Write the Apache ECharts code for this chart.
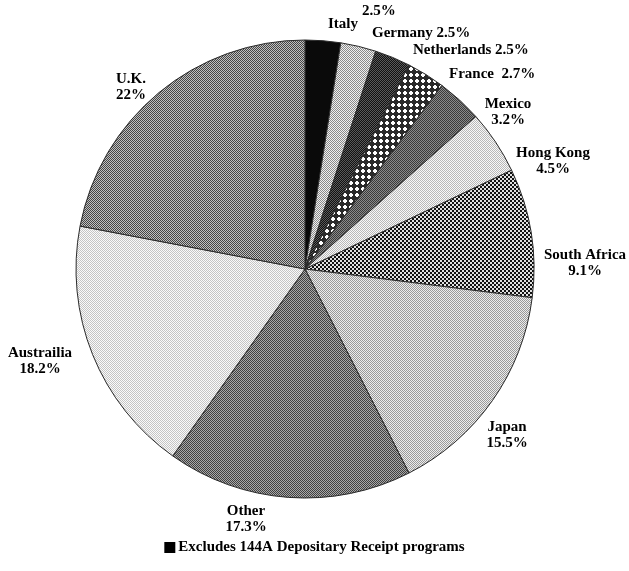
<!DOCTYPE html>
<html>
<head>
<meta charset="utf-8">
<script src="https://cdn.jsdelivr.net/npm/echarts@6/dist/echarts.min.js"></script>
<style>html,body{margin:0;padding:0;background:#fff;}#c{width:629px;height:571px;}</style>
</head>
<body>
<div id="c"></div>
<script>
var categories = ['Italy','Germany','Netherlands','France','Mexico','Hong Kong','South Africa','Japan','Other','Austrailia','U.K.'];
var values = [2.5, 2.5, 2.5, 2.7, 3.2, 4.5, 9.1, 15.5, 17.3, 18.2, 22];
var valueLabels = ['2.5%','2.5%','2.5%','2.7%','3.2%','4.5%','9.1%','15.5%','17.3%','18.2%','22%'];
var noteText = 'Excludes 144A Depositary Receipt programs';

function pattern(bg, fg, kind) {
  var c = document.createElement('canvas');
  var s = kind === 'cross' ? 6 : (kind === 'hatch' ? 4 : 2);
  c.width = s; c.height = s;
  var g = c.getContext('2d');
  g.fillStyle = bg; g.fillRect(0, 0, s, s);
  g.fillStyle = fg;
  if (kind === 'cross') {
    g.fillRect(2, 1, 2, 4); g.fillRect(1, 2, 4, 2);
  } else if (kind === 'hatch') {
    g.fillRect(0, 0, 2, 2); g.fillRect(2, 2, 2, 2);
  } else {
    g.fillRect(0, 0, 1, 1); g.fillRect(1, 1, 1, 1);
  }
  return { image: c, repeat: 'repeat' };
}

var fills = [
  '#0a0a0a',
  pattern('#f0f0f0', '#8a8a8a', 'dither'),
  pattern('#111111', '#5a5a5a', 'dither'),
  pattern('#2a2a2a', '#ffffff', 'cross'),
  pattern('#8a8a8a', '#3a3a3a', 'dither'),
  pattern('#f8f8f8', '#b8b8b8', 'dither'),
  pattern('#111111', '#e0e0e0', 'hatch'),
  pattern('#ececec', '#999999', 'dither'),
  pattern('#a8a8a8', '#404040', 'dither'),
  pattern('#fafafa', '#c4c4c4', 'dither'),
  pattern('#c0c0c0', '#454545', 'dither')
];

// label placement: [x, y, align]
var labelPos = [
  [328, 18, 'left'],
  [372, 33, 'left'],
  [413, 50, 'left'],
  [449, 74, 'left'],
  [508, 112, 'center'],
  [553, 161, 'center'],
  [585, 263, 'center'],
  [507, 435, 'center'],
  [246, 519, 'center'],
  [40, 361, 'center'],
  [131, 87, 'center']
];
var labelFormats = ['italy','inline','inline','wide','two','two','two','two','two','two','two'];

var data = categories.map(function (n, i) {
  return { name: n, value: values[i], itemStyle: { color: fills[i] } };
});

var chart = echarts.init(document.getElementById('c'), null, { renderer: 'canvas' });
chart.setOption({
  backgroundColor: '#ffffff',
  animation: false,
  series: [{
    type: 'pie',
    center: [305, 269],
    radius: 229,
    startAngle: 90,
    clockwise: true,
    data: data,
    itemStyle: { borderColor: '#2a2a2a', borderWidth: 1 },
    label: {
      show: true,
      position: 'outside',
      overflow: 'none',
      fontFamily: 'Liberation Serif',
      fontWeight: 'bold',
      fontSize: 15,
      color: '#000',
      lineHeight: 16,
      formatter: function (p) {
        var i = p.dataIndex, f = labelFormats[i];
        if (f === 'italy') return '{p|' + valueLabels[i] + '}\n{n|' + categories[i] + '}';
        if (f === 'inline') return categories[i] + ' ' + valueLabels[i];
        if (f === 'wide') return categories[i] + '  ' + valueLabels[i];
        return categories[i] + '\n' + valueLabels[i];
      },
      rich: {
        p: { fontFamily: 'Liberation Serif', fontWeight: 'bold', fontSize: 15, padding: [0, 0, 0, 34], lineHeight: 12 },
        n: { fontFamily: 'Liberation Serif', fontWeight: 'bold', fontSize: 15, lineHeight: 14 }
      }
    },
    labelLine: { show: false },
    labelLayout: function (params) {
      var lp = labelPos[params.dataIndex];
      return { x: lp[0], y: lp[1], align: lp[2], verticalAlign: 'middle', hideOverlap: false };
    },
    emphasis: { disabled: true }
  }],
  graphic: [{
    type: 'group',
    left: 'center',
    top: 540,
    children: [
      { type: 'rect', shape: { x: 0, y: 2, width: 11, height: 11 }, style: { fill: '#000' } },
      { type: 'text', x: 14, y: 0, style: { text: noteText, font: 'bold 15px "Liberation Serif"', fill: '#000' } }
    ]
  }]
});
</script>
</body>
</html>
